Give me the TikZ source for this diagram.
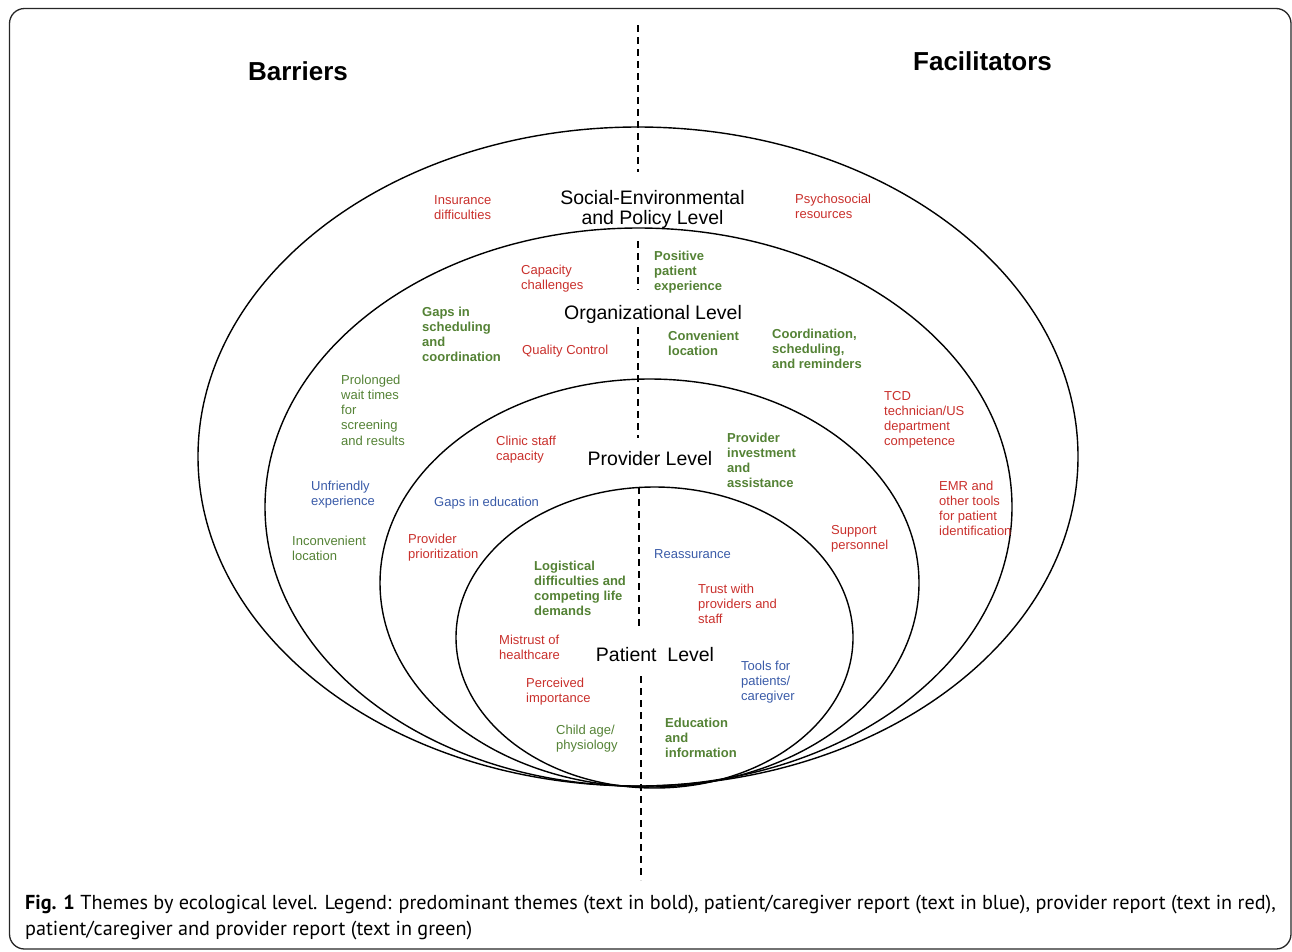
\documentclass[tikz,border=0pt]{standalone}
\usepackage{fontspec}
\setmainfont{Liberation Sans}
\newfontfamily\capfont{PT Sans}
\definecolor{provred}{RGB}{201,48,44}
\definecolor{bothgreen}{RGB}{84,130,53}
\definecolor{patblue}{RGB}{58,91,168}
\begin{document}
% multi-line labels are placed by the baseline of their last line
\begin{tikzpicture}[x=1pt,y=-1pt,
  ring/.style={draw=black,line width=1.4pt},
  divider/.style={draw=black,line width=1.4pt,dash pattern=on 7pt off 5pt},
  lbl/.style={anchor=base west,inner sep=0pt,align=left,font=\fontsize{13}{15.3}\selectfont},
  bold/.style={font=\fontsize{13}{15.3}\selectfont\bfseries},
  provtxt/.style={lbl,text=provred},
  pattxt/.style={lbl,text=patblue},
  bothtxt/.style={lbl,text=bothgreen},
  levelname/.style={anchor=base,inner sep=0pt,align=center,font=\fontsize{19.5}{20}\selectfont},
  sidehead/.style={anchor=base,inner sep=0pt,font=\fontsize{26}{30}\selectfont\bfseries}
]
\useasboundingbox (0,0) rectangle (1292,951);
% outer frame
\draw[line width=1.3pt,rounded corners=15pt,draw=black!85] (9.5,8.5) rectangle (1291,949);

% nested ecological levels
\draw[ring] (638,456.5) ellipse [x radius=440pt,y radius=329.5pt];
\draw[ring] (638.5,507) ellipse [x radius=373.5pt,y radius=279pt];
\draw[ring] (649.5,583) ellipse [x radius=269.5pt,y radius=204pt];
\draw[ring] (654.5,637.5) ellipse [x radius=198.5pt,y radius=150.5pt];

% barrier / facilitator divider
\draw[divider] (638,25) -- (638,172);
\draw[divider] (638,241) -- (638,290);
\draw[divider] (638,327) -- (638,438);
\draw[divider] (639,487) -- (639,630);
\draw[divider] (641,676) -- (641,880);

% column headings
\node[sidehead] (barriers) at (298,80) {Barriers};
\node[sidehead] (facilitators) at (982.5,70) {Facilitators};

% level names
\node[levelname] (social) at (652.5,224) {Social-Environmental\\and Policy Level};
\node[levelname] (org) at (653,319) {Organizational Level};
\node[levelname] (prov) at (650,465) {Provider Level};
\node[levelname] (pat) at (655,661) {Patient\ \ Level};

% social-environmental and policy level
\node[provtxt] (insur) at (434,219.3) {Insurance\\difficulties};
\node[provtxt] (psych) at (795,218.3) {Psychosocial\\resources};

% organizational level
\node[provtxt] (capac) at (521,289.3) {Capacity\\challenges};
\node[bothtxt,bold] (posexp) at (654,290.6) {Positive\\patient\\experience};
\node[bothtxt,bold] (gapsched) at (422,361.9) {Gaps in\\scheduling\\and\\coordination};
\node[provtxt] (quality) at (522,354) {Quality Control};
\node[bothtxt,bold] (convloc) at (668,355.3) {Convenient\\location};
\node[bothtxt,bold] (coord) at (772,368.6) {Coordination,\\scheduling,\\and reminders};
\node[bothtxt] (wait) at (341,445.2) {Prolonged\\wait times\\for\\screening\\and results};
\node[provtxt] (tcd) at (884,445.9) {TCD\\technician/US\\department\\competence};
\node[pattxt] (unfr) at (311,505.3) {Unfriendly\\experience};
\node[provtxt] (emr) at (939,535.9) {EMR and\\other tools\\for patient\\identification};
\node[bothtxt] (inconv) at (292,560.3) {Inconvenient\\location};

% provider level
\node[provtxt] (clinic) at (496,460.3) {Clinic staff\\capacity};
\node[bothtxt,bold] (invest) at (727,487.9) {Provider\\investment\\and\\assistance};
\node[pattxt] (gapedu) at (434,506) {Gaps in education};
\node[provtxt] (prior) at (408,558.3) {Provider\\prioritization};
\node[provtxt] (support) at (831,549.3) {Support\\personnel};

% patient level
\node[pattxt] (reass) at (654,558) {Reassurance};
\node[bothtxt,bold] (logist) at (534,615.9) {Logistical\\difficulties and\\competing life\\demands};
\node[provtxt] (trust) at (698,623.6) {Trust with\\providers and\\staff};
\node[provtxt] (mistrust) at (499,659.3) {Mistrust of\\healthcare};
\node[provtxt] (percv) at (526,702.3) {Perceived\\importance};
\node[pattxt] (tools) at (741,700.6) {Tools for\\patients/\\caregiver};
\node[bothtxt] (child) at (556,749.3) {Child age/\\physiology};
\node[bothtxt,bold] (educ) at (665,757.6) {Education\\and\\information};

% caption
\node[anchor=base west,inner sep=0pt,align=left,font=\capfont\fontsize{20.2}{26}\selectfont] (caption) at (25,935)
  {\textbf{Fig. 1} Themes by ecological level. Legend: predominant themes (text in bold), patient/caregiver report (text in blue), provider report (text in red),\\patient/caregiver and provider report (text in green)};
\end{tikzpicture}
\end{document}
